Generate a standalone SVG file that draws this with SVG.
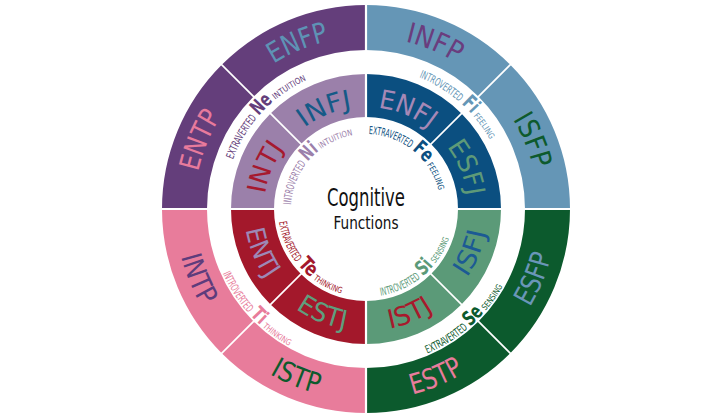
<svg xmlns="http://www.w3.org/2000/svg" xmlns:xlink="http://www.w3.org/1999/xlink" width="720" height="420" viewBox="0 0 720 420">
<style>
.t{font-family:"Liberation Sans Narrow","DejaVu Sans Condensed","Liberation Sans",Arial,sans-serif}
.bo{font-size:28px}
.bi{font-size:26px}
.pre{font-size:11px}
.suf{font-size:8.5px}
.ab{font-size:20px;font-weight:bold}
.sep{stroke:#fff;fill:none}
</style>
<defs>
<path id="bigOT" d="M267.34,68.11 A172,172 0 0 1 464.66,68.11"/>
<path id="bigOB" d="M256.45,365.46 A191,191 0 0 0 475.55,365.46"/>
<path id="bigIT" d="M307.49,125.45 A102,102 0 0 1 424.51,125.45"/>
<path id="bigIB" d="M296.02,308.94 A122,122 0 0 0 435.98,308.94"/>
<path id="smOT" d="M243.02,138 A142,142 0 0 1 488.98,138"/>
<path id="smOB" d="M230.03,287.5 A157,157 0 0 0 501.97,287.5"/>
<path id="smIT" d="M301.05,171.5 A75,75 0 0 1 430.95,171.5"/>
<path id="smIB" d="M289.79,253 A88,88 0 0 0 442.21,253"/>
</defs>
<rect width="720" height="420" fill="#fff"/>

<g id="ENFP"><path d="M221.75,64.75 A204,204 0 0 1 366,5 L366,50 A159,159 0 0 0 253.57,96.57 Z" fill="#643e7b"/>
<text class="t bo" fill="#5e93b5" transform="rotate(-22.5 366 209)"><textPath href="#bigOT" startOffset="50%" text-anchor="middle" textLength="60" lengthAdjust="spacingAndGlyphs">ENFP</textPath></text></g>
<g id="ENTP"><path d="M162,209 A204,204 0 0 1 221.75,64.75 L253.57,96.57 A159,159 0 0 0 207,209 Z" fill="#643e7b"/>
<text class="t bo" fill="#e87a9c" transform="rotate(-67.5 366 209)"><textPath href="#bigOT" startOffset="50%" text-anchor="middle" textLength="60" lengthAdjust="spacingAndGlyphs">ENTP</textPath></text></g>
<g id="INFP"><path d="M366,5 A204,204 0 0 1 510.25,64.75 L478.43,96.57 A159,159 0 0 0 366,50 Z" fill="#6596b6"/>
<text class="t bo" fill="#6a3d7e" transform="rotate(22.5 366 209)"><textPath href="#bigOT" startOffset="50%" text-anchor="middle" textLength="56" lengthAdjust="spacingAndGlyphs">INFP</textPath></text></g>
<g id="ISFP"><path d="M510.25,64.75 A204,204 0 0 1 570,209 L525,209 A159,159 0 0 0 478.43,96.57 Z" fill="#6596b6"/>
<text class="t bo" fill="#0d5a2d" transform="rotate(67.5 366 209)"><textPath href="#bigOT" startOffset="50%" text-anchor="middle" textLength="54" lengthAdjust="spacingAndGlyphs">ISFP</textPath></text></g>
<g id="ESFP"><path d="M570,209 A204,204 0 0 1 510.25,353.25 L478.43,321.43 A159,159 0 0 0 525,209 Z" fill="#0c5a2d"/>
<text class="t bo" fill="#6a96b8" transform="rotate(-67.5 366 209)"><textPath href="#bigOB" startOffset="50%" text-anchor="middle" textLength="56" lengthAdjust="spacingAndGlyphs">ESFP</textPath></text></g>
<g id="ESTP"><path d="M510.25,353.25 A204,204 0 0 1 366,413 L366,368 A159,159 0 0 0 478.43,321.43 Z" fill="#0c5a2d"/>
<text class="t bo" fill="#e87c9c" transform="rotate(-22.5 366 209)"><textPath href="#bigOB" startOffset="50%" text-anchor="middle" textLength="56" lengthAdjust="spacingAndGlyphs">ESTP</textPath></text></g>
<g id="ISTP"><path d="M366,413 A204,204 0 0 1 221.75,353.25 L253.57,321.43 A159,159 0 0 0 366,368 Z" fill="#e87c9b"/>
<text class="t bo" fill="#0d5a2d" transform="rotate(22.5 366 209)"><textPath href="#bigOB" startOffset="50%" text-anchor="middle" textLength="52" lengthAdjust="spacingAndGlyphs">ISTP</textPath></text></g>
<g id="INTP"><path d="M221.75,353.25 A204,204 0 0 1 162,209 L207,209 A159,159 0 0 0 253.57,321.43 Z" fill="#e87c9b"/>
<text class="t bo" fill="#5e3c7c" transform="rotate(67.5 366 209)"><textPath href="#bigOB" startOffset="50%" text-anchor="middle" textLength="54" lengthAdjust="spacingAndGlyphs">INTP</textPath></text></g>

<g id="INFJ"><path d="M270.54,113.54 A135,135 0 0 1 366,74 L366,117 A92,92 0 0 0 300.95,143.95 Z" fill="#9b80aa"/>
<text class="t bi" fill="#155a87" transform="rotate(-22.5 366 209)"><textPath href="#bigIT" startOffset="50%" text-anchor="middle" textLength="52" lengthAdjust="spacingAndGlyphs">INFJ</textPath></text></g>
<g id="INTJ"><path d="M231,209 A135,135 0 0 1 270.54,113.54 L300.95,143.95 A92,92 0 0 0 274,209 Z" fill="#9b80aa"/>
<text class="t bi" fill="#a6192e" transform="rotate(-67.5 366 209)"><textPath href="#bigIT" startOffset="50%" text-anchor="middle" textLength="50" lengthAdjust="spacingAndGlyphs">INTJ</textPath></text></g>
<g id="ENFJ"><path d="M366,74 A135,135 0 0 1 461.46,113.54 L431.05,143.95 A92,92 0 0 0 366,117 Z" fill="#0b4f80"/>
<text class="t bi" fill="#a688b6" transform="rotate(22.5 366 209)"><textPath href="#bigIT" startOffset="50%" text-anchor="middle" textLength="56" lengthAdjust="spacingAndGlyphs">ENFJ</textPath></text></g>
<g id="ESFJ"><path d="M461.46,113.54 A135,135 0 0 1 501,209 L458,209 A92,92 0 0 0 431.05,143.95 Z" fill="#0b4f80"/>
<text class="t bi" fill="#5e9a78" transform="rotate(67.5 366 209)"><textPath href="#bigIT" startOffset="50%" text-anchor="middle" textLength="54" lengthAdjust="spacingAndGlyphs">ESFJ</textPath></text></g>
<g id="ISFJ"><path d="M501,209 A135,135 0 0 1 461.46,304.46 L431.05,274.05 A92,92 0 0 0 458,209 Z" fill="#5b9a78"/>
<text class="t bi" fill="#1c5a94" transform="rotate(-67.5 366 209)"><textPath href="#bigIB" startOffset="50%" text-anchor="middle" textLength="50" lengthAdjust="spacingAndGlyphs">ISFJ</textPath></text></g>
<g id="ISTJ"><path d="M461.46,304.46 A135,135 0 0 1 366,344 L366,301 A92,92 0 0 0 431.05,274.05 Z" fill="#5b9a78"/>
<text class="t bi" fill="#a8192c" transform="rotate(-22.5 366 209)"><textPath href="#bigIB" startOffset="50%" text-anchor="middle" textLength="48" lengthAdjust="spacingAndGlyphs">ISTJ</textPath></text></g>
<g id="ESTJ"><path d="M366,344 A135,135 0 0 1 270.54,304.46 L300.95,274.05 A92,92 0 0 0 366,301 Z" fill="#a3182b"/>
<text class="t bi" fill="#5f9e7e" transform="rotate(22.5 366 209)"><textPath href="#bigIB" startOffset="50%" text-anchor="middle" textLength="54" lengthAdjust="spacingAndGlyphs">ESTJ</textPath></text></g>
<g id="ENTJ"><path d="M270.54,304.46 A135,135 0 0 1 231,209 L274,209 A92,92 0 0 0 300.95,274.05 Z" fill="#a3182b"/>
<text class="t bi" fill="#9d88b6" transform="rotate(67.5 366 209)"><textPath href="#bigIB" startOffset="50%" text-anchor="middle" textLength="54" lengthAdjust="spacingAndGlyphs">ENTJ</textPath></text></g>

<g id="separators" class="sep">
<line x1="366" y1="0" x2="366" y2="420" stroke-width="2.2"/>
<line x1="150" y1="209" x2="585" y2="209" stroke-width="2.2"/>
<line x1="429.64" y1="145.36" x2="511.66" y2="63.34" stroke-width="1.6"/>
<line x1="429.64" y1="272.64" x2="511.66" y2="354.66" stroke-width="1.6"/>
<line x1="302.36" y1="272.64" x2="220.34" y2="354.66" stroke-width="1.6"/>
<line x1="302.36" y1="145.36" x2="220.34" y2="63.34" stroke-width="1.6"/>
</g>

<g id="Ne" class="t" fill="#643e7b" transform="rotate(-45 366 209)">
<text class="pre"><textPath href="#smOT" startOffset="135.7" text-anchor="end" textLength="48" lengthAdjust="spacingAndGlyphs">EXTRAVERTED</textPath></text>
<text class="ab"><textPath href="#smOT" startOffset="148.7" text-anchor="middle" textLength="21" lengthAdjust="spacingAndGlyphs">Ne</textPath></text>
<text class="suf"><textPath href="#smOT" startOffset="161.7" textLength="37" lengthAdjust="spacingAndGlyphs">INTUITION</textPath></text>
</g>
<g id="Fi" class="t" fill="#6596b6" transform="rotate(45 366 209)">
<text class="pre"><textPath href="#smOT" startOffset="138.7" text-anchor="end" textLength="47" lengthAdjust="spacingAndGlyphs">INTROVERTED</textPath></text>
<text class="ab"><textPath href="#smOT" startOffset="148.7" text-anchor="middle" textLength="15" lengthAdjust="spacingAndGlyphs">Fi</textPath></text>
<text class="suf"><textPath href="#smOT" startOffset="158.7" textLength="29" lengthAdjust="spacingAndGlyphs">FEELING</textPath></text>
</g>
<g id="Ni" class="t" fill="#9b80aa" transform="rotate(-45 366 209)">
<text class="pre"><textPath href="#smIT" startOffset="68" text-anchor="end" textLength="44" lengthAdjust="spacingAndGlyphs">INTROVERTED</textPath></text>
<text class="ab"><textPath href="#smIT" startOffset="78.5" text-anchor="middle" textLength="16" lengthAdjust="spacingAndGlyphs">Ni</textPath></text>
<text class="suf"><textPath href="#smIT" startOffset="89" textLength="35" lengthAdjust="spacingAndGlyphs">INTUITION</textPath></text>
</g>
<g id="Fe" class="t" fill="#0b4f80" transform="rotate(45 366 209)">
<text class="pre"><textPath href="#smIT" startOffset="66.5" text-anchor="end" textLength="44" lengthAdjust="spacingAndGlyphs">EXTRAVERTED</textPath></text>
<text class="ab"><textPath href="#smIT" startOffset="78.5" text-anchor="middle" textLength="19" lengthAdjust="spacingAndGlyphs">Fe</textPath></text>
<text class="suf"><textPath href="#smIT" startOffset="90.5" textLength="28" lengthAdjust="spacingAndGlyphs">FEELING</textPath></text>
</g>
<g id="Se" class="t" fill="#0c5a2d" transform="rotate(-45 366 209)">
<text class="pre"><textPath href="#smOB" startOffset="151.9" text-anchor="end" textLength="48" lengthAdjust="spacingAndGlyphs">EXTRAVERTED</textPath></text>
<text class="ab"><textPath href="#smOB" startOffset="164.4" text-anchor="middle" textLength="20" lengthAdjust="spacingAndGlyphs">Se</textPath></text>
<text class="suf"><textPath href="#smOB" startOffset="176.9" textLength="30" lengthAdjust="spacingAndGlyphs">SENSING</textPath></text>
</g>
<g id="Ti" class="t" fill="#e87c9b" transform="rotate(45 366 209)">
<text class="pre"><textPath href="#smOB" startOffset="154.4" text-anchor="end" textLength="47" lengthAdjust="spacingAndGlyphs">INTROVERTED</textPath></text>
<text class="ab"><textPath href="#smOB" startOffset="164.4" text-anchor="middle" textLength="15" lengthAdjust="spacingAndGlyphs">Ti</textPath></text>
<text class="suf"><textPath href="#smOB" startOffset="174.4" textLength="33" lengthAdjust="spacingAndGlyphs">THINKING</textPath></text>
</g>
<g id="Si" class="t" fill="#5b9a78" transform="rotate(-45 366 209)">
<text class="pre"><textPath href="#smIB" startOffset="81.9" text-anchor="end" textLength="44" lengthAdjust="spacingAndGlyphs">INTROVERTED</textPath></text>
<text class="ab"><textPath href="#smIB" startOffset="92.2" text-anchor="middle" textLength="15.5" lengthAdjust="spacingAndGlyphs">Si</textPath></text>
<text class="suf"><textPath href="#smIB" startOffset="102.4" textLength="29" lengthAdjust="spacingAndGlyphs">SENSING</textPath></text>
</g>
<g id="Te" class="t" fill="#a3182b" transform="rotate(45 366 209)">
<text class="pre"><textPath href="#smIB" startOffset="80.2" text-anchor="end" textLength="44" lengthAdjust="spacingAndGlyphs">EXTRAVERTED</textPath></text>
<text class="ab"><textPath href="#smIB" startOffset="92.2" text-anchor="middle" textLength="19" lengthAdjust="spacingAndGlyphs">Te</textPath></text>
<text class="suf"><textPath href="#smIB" startOffset="104.2" textLength="32" lengthAdjust="spacingAndGlyphs">THINKING</textPath></text>
</g>

<g id="center" class="t" fill="#111" text-anchor="middle">
<text x="366" y="205.5" font-size="25" textLength="78" lengthAdjust="spacingAndGlyphs">Cognitive</text>
<text x="366" y="228.5" font-size="18" textLength="65" lengthAdjust="spacingAndGlyphs">Functions</text>
</g>
</svg>
